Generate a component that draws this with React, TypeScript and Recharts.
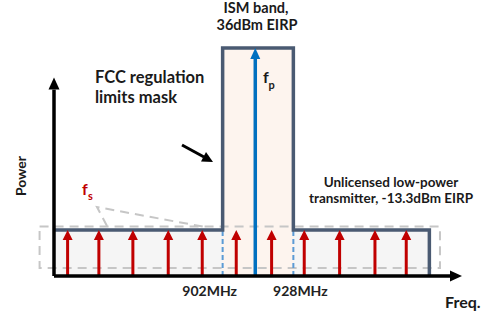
import React from 'react'
import { ComposedChart, Line, Area, XAxis, YAxis, ReferenceLine, ReferenceArea } from 'recharts'

// frequency axis (MHz) and power axis (dBm)
const freqDomain = [840, 990]
const powerDomain = [-25.8, 38.2]
const bandEdges = [902, 928]

// FCC mask: low-power limit outside the ISM band, 36dBm inside
const maskFreq = [840, 902, 928, 978, 978]
const maskLevel = [-13.3, 36, -13.3, -13.3, -25.8]

const lowFreq = [840, 978]
const lowLevel = [-13.3, -13.3]
const ismFreq = [902, 928]
const ismLevel = [36, 36]

// secondary (unlicensed) tones and primary carrier
const fsFreq = [845, 856.5, 869, 882, 894.5, 907, 920, 932, 945, 958, 969.5]
const fsLevel = -13.3
const fpFreq = 914
const fpLevel = 36

// dashed box around the low-power tones
const boxFreq = [834.7, 981.9]
const boxLevel = [-23.6, -12.4]
const yArrowTop = 28

const maskData = maskFreq.map((f, i) => ({ f, level: maskLevel[i] }))
const lowData = lowFreq.map((f, i) => ({ f, level: lowLevel[i] }))
const ismData = ismFreq.map((f, i) => ({ f, level: ismLevel[i] }))

const FONT = 'Lato, "Open Sans", sans-serif'

function arrowShape(color: string, w: number, headW: number, headL: number) {
  return (p: any) => {
    const { x1, y1, x2, y2 } = p
    const dx = x2 - x1
    const dy = y2 - y1
    const len = Math.hypot(dx, dy) || 1
    const ux = dx / len
    const uy = dy / len
    const bx = x2 - ux * headL
    const by = y2 - uy * headL
    const nx = -uy * headW / 2
    const ny = ux * headW / 2
    return (
      <g>
        <line x1={x1} y1={y1} x2={bx} y2={by} stroke={color} strokeWidth={w} />
        <polygon points={`${x2},${y2} ${bx + nx},${by + ny} ${bx - nx},${by - ny}`} fill={color} />
      </g>
    )
  }
}

const redArrow = arrowShape('#c00000', 3, 10, 10)
const blueArrow = arrowShape('#0070c0', 3.5, 10, 11)
const axisArrow = arrowShape('#000000', 3.5, 11, 12)

function FreqTick(props: any) {
  const { x, payload } = props
  const dx = payload.value === 902 ? -13 : 7
  return (
    <text x={x + dx} y={296} textAnchor="middle" fontFamily={FONT} fontWeight={700} fontSize={14} fill="#222">
      {payload.value}MHz
    </text>
  )
}

export default function App() {
  const txt = { fontFamily: FONT, fontWeight: 700, fill: '#1a1a1a' } as const
  return (
    <div style={{ position: 'absolute', left: 0, top: 0, width: 484, height: 313, background: '#fff' }}>
      <ComposedChart width={484} height={313} margin={{ top: 40, right: 22, bottom: 7, left: 54 }}>
        <XAxis
          type="number"
          dataKey="f"
          domain={freqDomain}
          ticks={bandEdges}
          axisLine={false}
          tickLine={false}
          tick={<FreqTick />}
          height={30}
          allowDataOverflow
        />
        <YAxis type="number" domain={powerDomain} hide allowDataOverflow />

        <Area data={lowData} dataKey="level" type="linear" baseValue="dataMin" stroke="none" fill="#f5f5f5" fillOpacity={1} isAnimationActive={false} />
        <Area data={ismData} dataKey="level" type="linear" baseValue="dataMin" stroke="none" fill="#fdf4ee" fillOpacity={1} isAnimationActive={false} />

        <ReferenceArea
          x1={boxFreq[0]}
          x2={boxFreq[1]}
          y1={boxLevel[0]}
          y2={boxLevel[1]}
          ifOverflow="visible"
          fill="none"
          stroke="#c6c6c6"
          strokeWidth={2}
          strokeDasharray="9 6"
        />

        {bandEdges.map(f => (
          <ReferenceLine
            key={f}
            segment={[{ x: f, y: powerDomain[0] }, { x: f, y: fsLevel }]}
            ifOverflow="visible"
            stroke="#5b9bd5"
            strokeWidth={2}
            strokeDasharray="5 3"
          />
        ))}

        <Line data={maskData} dataKey="level" type="stepAfter" stroke="#4a5a72" strokeWidth={3.5} dot={false} activeDot={false} isAnimationActive={false} />

        {fsFreq.map(f => (
          <ReferenceLine
            key={f}
            segment={[{ x: f, y: powerDomain[0] }, { x: f, y: fsLevel }]}
            ifOverflow="visible"
            shape={redArrow}
          />
        ))}
        <ReferenceLine
          segment={[{ x: fpFreq, y: powerDomain[0] }, { x: fpFreq, y: fpLevel }]}
          ifOverflow="visible"
          shape={blueArrow}
        />

        <ReferenceLine
          segment={[{ x: freqDomain[0], y: powerDomain[0] }, { x: freqDomain[0], y: yArrowTop }]}
          ifOverflow="visible"
          shape={axisArrow}
        />
        <ReferenceLine
          segment={[{ x: freqDomain[0], y: powerDomain[0] }, { x: freqDomain[1], y: powerDomain[0] }]}
          ifOverflow="visible"
          shape={axisArrow}
        />
      </ComposedChart>

      {/* annotations on top of the chart */}
      <svg width={484} height={313} style={{ position: 'absolute', left: 0, top: 0, pointerEvents: 'none' }}>
        <polyline points="107,226 97,207 205,227" fill="none" stroke="#c6c6c6" strokeWidth={2} strokeDasharray="9 6" />
        <line x1={182} y1={145} x2={204} y2={157} stroke="#000" strokeWidth={3} />
        <polygon points="213,162 201,161.5 206,152" fill="#000" />

        <text x={256} y={13} textAnchor="middle" fontSize={14.5} {...txt}>ISM band,</text>
        <text x={257} y={30} textAnchor="middle" fontSize={14.5} {...txt}>36dBm EIRP</text>

        <text x={95} y={83} fontSize={16.5} {...txt}>FCC regulation</text>
        <text x={95} y={103} fontSize={16.5} {...txt}>limits mask</text>

        <text x={263} y={83} fontSize={16} {...txt}>f</text>
        <text x={268.5} y={89} fontSize={11} {...txt}>p</text>

        <text x={82} y={195} fontSize={16} {...txt} fill="#c00000">f</text>
        <text x={88} y={200} fontSize={11} {...txt} fill="#c00000">s</text>

        <text x={26} y={176} textAnchor="middle" fontSize={14} transform="rotate(-90 26 176)" {...txt}>Power</text>

        <text x={391} y={187} textAnchor="middle" fontSize={13.5} {...txt}>Unlicensed low-power</text>
        <text x={391} y={203} textAnchor="middle" fontSize={13.5} {...txt}>transmitter, -13.3dBm EIRP</text>

        <text x={445} y={308} fontSize={16} {...txt}>Freq.</text>
      </svg>
    </div>
  )
}
